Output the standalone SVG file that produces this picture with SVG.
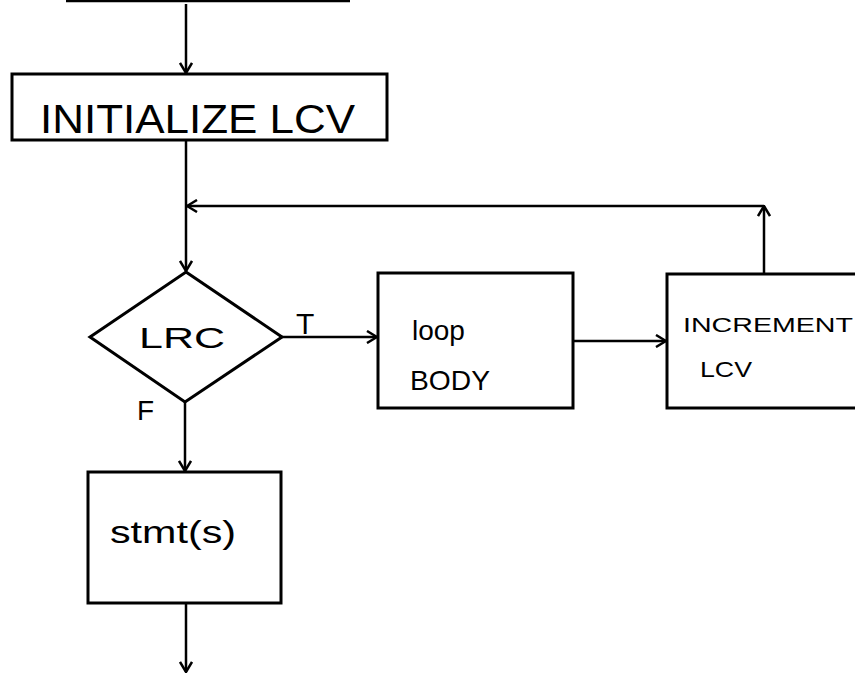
<svg xmlns="http://www.w3.org/2000/svg" width="855" height="675" viewBox="0 0 855 675">
<defs>
<style>
.box{fill:#fff;stroke:#000;stroke-width:3}
.ln{fill:none;stroke:#000;stroke-width:2.5}
.t{font-family:"Liberation Sans",Arial,sans-serif;fill:#000}
</style>
<marker id="ah" viewBox="0 0 12 14" refX="11" refY="7" markerWidth="12" markerHeight="14" markerUnits="userSpaceOnUse" orient="auto">
<path d="M1,1 L11,7 L1,13" fill="none" stroke="#000" stroke-width="2.5"/>
</marker>
</defs>
<rect width="855" height="675" fill="#fff"/>
<g id="connectors">
<line class="ln" x1="66" y1="1" x2="350" y2="1"/>
<line class="ln" x1="186" y1="4" x2="186" y2="73" marker-end="url(#ah)"/>
<line class="ln" x1="186" y1="140" x2="186" y2="271" marker-end="url(#ah)"/>
<polyline class="ln" points="764,274 764,206" marker-end="url(#ah)"/>
<line class="ln" x1="764" y1="206" x2="187" y2="206" marker-end="url(#ah)"/>
<line class="ln" x1="282" y1="337" x2="377" y2="337" marker-end="url(#ah)"/>
<line class="ln" x1="573" y1="341" x2="666" y2="341" marker-end="url(#ah)"/>
<line class="ln" x1="185" y1="402" x2="185" y2="471" marker-end="url(#ah)"/>
<line class="ln" x1="186" y1="603" x2="186" y2="672" marker-end="url(#ah)"/>
<text class="t" x="296" y="334" style="font-size:30px">T</text>
<text class="t" x="137" y="420" style="font-size:28px">F</text>
</g>
<g id="init">
<rect class="box" x="12" y="74" width="375" height="66"/>
<text class="t" x="40" y="133" style="font-size:40px" textLength="315" lengthAdjust="spacingAndGlyphs">INITIALIZE LCV</text>
</g>
<g id="lrc">
<polygon class="box" points="186,272 282,337 185,402 90,337"/>
<text class="t" x="139" y="348" style="font-size:30px" textLength="86" lengthAdjust="spacingAndGlyphs">LRC</text>
</g>
<g id="body">
<rect class="box" x="378" y="273" width="195" height="135"/>
<text class="t" x="412" y="340" style="font-size:28px">loop</text>
<text class="t" x="410" y="390" style="font-size:28px" textLength="80" lengthAdjust="spacingAndGlyphs">BODY</text>
</g>
<g id="incr">
<rect class="box" x="667" y="274" width="200" height="134"/>
<text class="t" x="683" y="332" style="font-size:20px" textLength="170" lengthAdjust="spacingAndGlyphs">INCREMENT</text>
<text class="t" x="700" y="377" style="font-size:22px" textLength="52" lengthAdjust="spacingAndGlyphs">LCV</text>
</g>
<g id="stmts">
<rect class="box" x="88" y="472" width="193" height="131"/>
<text class="t" x="110" y="543" style="font-size:32px" textLength="126" lengthAdjust="spacingAndGlyphs">stmt(s)</text>
</g>
</svg>
